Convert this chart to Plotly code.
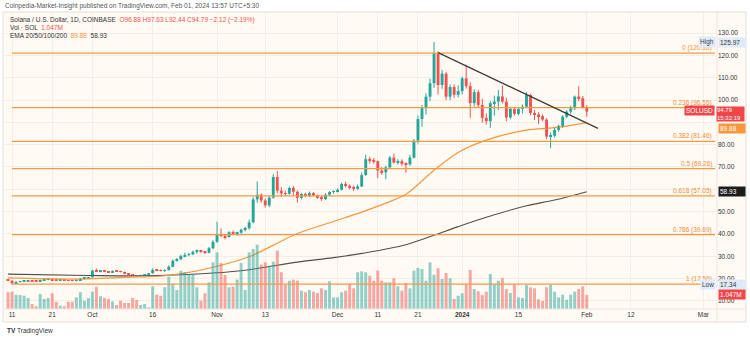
import plotly.graph_objects as go
import pandas as pd

# ---------------- data ----------------
dates = pd.date_range("2023-09-10", "2024-02-01", freq="D").strftime("%Y-%m-%d").tolist()

opens = [
    19.5, 19.1, 17.9, 18.5, 18.7, 18.9, 19.0, 18.9, 18.7, 19.3,
    19.6, 19.7, 19.3, 19.2, 19.3, 19.1, 19.0, 18.95, 19.3, 20.0,
    20.2, 20.6, 23.6, 23.3, 23.4, 23.2, 22.9, 23.4, 23.3, 23.0,
    22.1, 21.8, 21.4, 21.2, 21.5, 21.6, 22.4, 23.9, 23.7, 23.5,
    23.8, 25.3, 28.0, 28.7, 30.1, 30.6, 30.9, 32.0, 32.4, 32.0,
    31.6, 33.6, 36.5, 39.8, 39.3, 38.6, 40.8, 40.2, 40.6, 41.9,
    42.6, 45.2, 55.5, 57.6, 55.0, 52.8, 56.3, 65.5, 59.4, 58.2,
    58.0, 60.6, 58.9, 56.2, 57.9, 57.0, 58.3, 57.2, 56.5, 55.6,
    57.6, 58.8, 59.2, 59.8, 62.4, 61.6, 60.6, 60.2, 61.3, 66.4,
    73.5, 73.0, 72.6, 68.4, 67.6, 69.8, 74.2, 72.0, 72.6, 71.4,
    71.2, 74.2, 81.8, 91.5, 96.3, 101.5, 107.5, 120.9, 106.7, 111.8,
    101.5, 105.8, 102.3, 104.0, 109.7, 106.2, 98.6, 103.5, 97.8, 92.0,
    90.5, 98.6, 99.3, 101.6, 99.3, 92.2, 96.0, 93.8, 96.0, 97.0,
    102.2, 94.2, 93.5, 92.8, 91.2, 83.6, 84.0, 86.6, 88.4, 92.5,
    94.8, 96.3, 101.5, 100.8, 96.88]

highs = [
    19.7, 19.2, 18.9, 18.9, 19.2, 19.2, 19.1, 19.0, 19.6, 19.8,
    19.9, 19.8, 19.5, 19.4, 19.4, 19.2, 19.2, 19.6, 20.3, 20.6,
    20.8, 23.9, 24.5, 23.7, 23.6, 23.5, 23.7, 23.6, 23.5, 23.1,
    22.4, 22.0, 21.6, 21.7, 21.9, 22.6, 24.6, 24.3, 24.1, 24.2,
    26.0, 28.6, 29.2, 30.8, 31.6, 31.6, 32.6, 33.0, 32.8, 32.4,
    34.2, 37.2, 45.5, 42.5, 39.9, 41.2, 41.6, 41.0, 42.4, 43.2,
    46.5, 56.5, 63.5, 58.2, 55.8, 57.2, 66.8, 68.2, 61.0, 59.4,
    61.2, 61.5, 59.5, 58.3, 58.5, 59.0, 58.8, 57.6, 57.0, 58.2,
    59.2, 59.5, 60.5, 63.0, 63.4, 62.2, 61.6, 62.2, 67.5, 75.5,
    74.5, 74.0, 72.8, 70.0, 70.5, 75.0, 76.0, 73.5, 73.4, 72.0,
    75.5, 82.5, 93.0, 97.8, 103.0, 109.5, 125.97, 121.8, 113.5, 112.5,
    107.0, 107.0, 106.5, 110.5, 115.8, 108.0, 104.8, 104.5, 100.5, 94.0,
    99.5, 102.0, 104.5, 106.5, 101.0, 97.0, 96.8, 96.8, 98.0, 103.5,
    102.8, 95.5, 94.5, 93.5, 91.8, 85.5, 87.5, 89.0, 93.2, 95.5,
    97.5, 102.0, 106.2, 101.8, 97.63]

lows = [
    18.9, 17.34, 17.8, 18.3, 18.6, 18.7, 18.8, 18.6, 18.6, 19.2,
    19.3, 19.2, 19.1, 19.1, 19.0, 18.9, 18.8, 18.8, 19.2, 19.7,
    20.0, 20.5, 23.0, 22.8, 22.9, 22.6, 22.7, 23.1, 22.8, 21.9,
    21.6, 21.1, 20.9, 21.0, 21.3, 21.5, 22.3, 23.3, 23.2, 23.0,
    23.6, 25.1, 27.6, 28.2, 29.6, 30.0, 30.5, 31.2, 31.5, 31.0,
    31.3, 33.2, 36.0, 38.5, 37.6, 38.4, 39.6, 39.2, 40.1, 41.2,
    41.9, 44.8, 54.0, 54.0, 51.8, 52.0, 55.8, 58.2, 56.6, 56.9,
    57.6, 57.5, 54.0, 55.5, 56.5, 56.5, 56.8, 55.8, 54.8, 55.2,
    57.0, 58.0, 58.6, 59.5, 60.8, 60.0, 59.2, 59.8, 61.0, 66.0,
    71.5, 71.5, 65.0, 66.5, 64.5, 69.0, 71.5, 71.0, 70.5, 67.5,
    70.5, 73.8, 80.5, 88.0, 93.5, 99.5, 105.5, 102.5, 105.0, 100.0,
    100.0, 101.0, 101.2, 102.5, 105.0, 92.0, 97.0, 96.5, 89.8, 89.0,
    87.5, 93.0, 95.5, 98.5, 90.5, 91.5, 93.0, 93.2, 94.0, 96.5,
    93.2, 91.0, 89.2, 90.5, 82.5, 78.4, 83.2, 85.8, 87.5, 91.8,
    93.8, 95.5, 99.5, 96.2, 92.44]

closes = [
    19.1, 17.9, 18.5, 18.7, 18.9, 19.0, 18.9, 18.7, 19.3, 19.6,
    19.7, 19.3, 19.2, 19.3, 19.1, 19.0, 18.95, 19.3, 20.0, 20.2,
    20.6, 23.6, 23.3, 23.4, 23.2, 22.9, 23.4, 23.3, 23.0, 22.1,
    21.8, 21.4, 21.2, 21.5, 21.6, 22.4, 23.9, 23.7, 23.5, 23.8,
    25.3, 28.0, 28.7, 30.1, 30.6, 30.9, 32.0, 32.4, 32.0, 31.6,
    33.6, 36.5, 39.8, 39.3, 38.6, 40.8, 40.2, 40.6, 41.9, 42.6,
    45.2, 55.5, 57.6, 55.0, 52.8, 56.3, 65.5, 59.4, 58.2, 58.0,
    60.6, 58.9, 56.2, 57.9, 57.0, 58.3, 57.2, 56.5, 55.6, 57.6,
    58.8, 59.2, 59.8, 62.4, 61.6, 60.6, 60.2, 61.3, 66.4, 73.5,
    73.0, 72.6, 68.4, 67.6, 69.8, 74.2, 72.0, 72.6, 71.4, 71.2,
    74.2, 81.8, 91.5, 96.3, 101.5, 107.5, 120.9, 106.7, 111.8, 101.5,
    105.8, 102.3, 104.0, 109.7, 106.2, 98.6, 103.5, 97.8, 92.0, 90.5,
    98.6, 99.3, 101.6, 99.3, 92.2, 96.0, 93.8, 96.0, 97.0, 102.2,
    94.2, 93.5, 92.8, 91.2, 83.6, 84.0, 86.6, 88.4, 92.5, 94.8,
    96.3, 101.5, 100.8, 96.88, 94.79]

volumes_m = [
    1.25, 1.29, 1.07, 1.04, 0.99, 0.82, 0.37, 0.20, 1.12, 0.75,
    0.82, 1.17, 0.54, 0.25, 0.20, 0.54, 0.54, 0.87, 1.25, 0.62,
    0.82, 1.29, 1.66, 0.95, 0.82, 0.75, 0.57, 0.30, 0.62, 0.45,
    0.45, 0.82, 0.67, 0.30, 0.37, 0.13, 1.69, 1.07, 0.99, 1.62,
    2.41, 1.87, 1.42, 2.86, 2.74, 2.61, 2.61, 1.62, 0.62, 1.17,
    1.99, 3.48, 4.23, 3.43, 2.54, 1.62, 1.66, 2.19, 3.43, 1.42,
    4.23, 4.48, 4.80, 3.31, 3.48, 3.23, 3.53, 4.35, 2.74, 1.79,
    2.11, 2.19, 2.11, 1.37, 1.25, 1.42, 1.29, 1.19, 1.54, 1.42,
    2.07, 0.87, 0.87, 1.25, 1.37, 1.87, 1.54, 2.74, 2.81, 2.74,
    2.48, 2.11, 2.86, 2.11, 1.99, 1.99, 2.29, 1.69, 1.37, 1.94,
    1.54, 2.86, 3.06, 2.98, 2.11, 3.48, 2.56, 3.04, 2.24, 2.69,
    2.29, 0.75, 0.99, 1.17, 1.87, 2.91, 1.49, 1.32, 1.04, 1.29,
    2.61, 1.87, 2.11, 2.31, 1.49, 1.19, 1.87, 0.87, 0.82, 1.79,
    1.62, 1.54, 0.72, 0.60, 1.62, 1.79, 1.29, 0.87, 1.07, 0.69,
    1.07, 1.29, 1.49, 1.69, 1.047]

ema50_dates = ["2023-09-10", "2023-09-28", "2023-10-09", "2023-10-15", "2023-10-19",
               "2023-10-25", "2023-10-31", "2023-11-09", "2023-11-15", "2023-11-21",
               "2023-11-30", "2023-12-07", "2023-12-13", "2023-12-18", "2023-12-25",
               "2023-12-31", "2024-01-07", "2024-01-17", "2024-01-24", "2024-02-01"]
ema50_vals = [20.3, 19.8, 20.6, 20.9, 21.3, 22.8, 25.1, 29.8, 35.0, 40.2,
              45.6, 49.8, 53.8, 57.8, 68.5, 76.5, 82.0, 86.5, 87.6, 89.88]

ema200_dates = ["2023-09-10", "2023-09-30", "2023-10-15", "2023-10-31", "2023-11-09",
                "2023-11-21", "2023-11-30", "2023-12-07", "2023-12-18", "2023-12-25",
                "2023-12-31", "2024-01-07", "2024-01-17", "2024-01-24", "2024-02-01"]
ema200_vals = [22.0, 21.4, 21.3, 22.5, 24.0, 27.4, 29.4, 31.3, 35.2, 39.4,
               43.3, 47.5, 52.6, 55.2, 58.93]

fib_ratios = ["0", "0.236", "0.382", "0.5", "0.618", "0.786", "1"]
fib_levels = [120.95, 96.55, 81.46, 69.26, 57.05, 39.69, 17.56]
fib_start, fib_end = "2023-09-11", "2024-03-03 22:00"

trend_dates = ["2023-12-26", "2024-02-03 19:00"]
trend_vals = [121.2, 87.3]

price_ticks = [10, 20, 30, 40, 50, 60, 70, 80, 90, 100, 110, 120, 130]
hidden_ticks = [60, 90]   # covered by the EMA value boxes in the original
date_ticks = ["2023-09-11", "2023-09-21", "2023-10-01", "2023-10-16", "2023-11-01",
              "2023-11-13", "2023-12-01", "2023-12-11", "2023-12-21", "2024-01-01",
              "2024-01-15", "2024-02-01", "2024-02-12", "2024-03-01"]
date_labels = ["11", "21", "Oct", "16", "Nov", "13", "Dec", "11", "21", "<b>2024</b>",
               "15", "Feb", "12", "Mar"]

last_close, ema50_last, ema200_last, range_high, range_low, vol_last = 94.79, 89.88, 58.93, 125.97, 17.34, 1.047

# ---------------- style ----------------
W, H = 750, 339
ML, MR, MT, MB = 4, 33, 12, 30
GREEN, RED = "#26a69a", "#ef5350"
ORANGE = "#f39a45"
FONT = "Liberation Sans"
DAY_MS = 86400000


def pxx(px):
    return (px - ML) / (W - ML - MR)


def pxy(py):
    return (H - MB - py) / (H - MT - MB)


up = [c >= o for o, c in zip(opens, closes)]
vol_colors = ["rgba(38,166,154,0.5)" if u else "rgba(239,83,80,0.5)" for u in up]
body_colors = [GREEN if u else RED for u in up]
body_base = [min(o, c) for o, c in zip(opens, closes)]
body_len = [max(abs(c - o), 0.35) for o, c in zip(opens, closes)]

fig = go.Figure()
fig.add_trace(go.Bar(x=dates, y=volumes_m, yaxis="y2", marker_color=vol_colors,
                     marker_line_width=0, width=0.74 * DAY_MS, hoverinfo="skip",
                     showlegend=False))
fig.add_trace(go.Scatter(x=ema200_dates, y=ema200_vals, mode="lines",
                         line=dict(color="#505050", width=1.1, shape="spline"),
                         hoverinfo="skip", showlegend=False))
fig.add_trace(go.Scatter(x=ema50_dates, y=ema50_vals, mode="lines",
                         line=dict(color="#f7963a", width=1.2, shape="spline"),
                         hoverinfo="skip", showlegend=False))

for flag, col in ((True, GREEN), (False, RED)):
    wx, wy = [], []
    for d, h, l, u in zip(dates, highs, lows, up):
        if u == flag:
            wx += [d, d, None]
            wy += [l, h, None]
    fig.add_trace(go.Scatter(x=wx, y=wy, mode="lines", line=dict(color=col, width=1),
                             hoverinfo="skip", showlegend=False))
fig.add_trace(go.Bar(x=dates, y=body_len, base=body_base, marker_color=body_colors,
                     marker_line_width=0, width=0.72 * DAY_MS, hoverinfo="skip",
                     showlegend=False))

shapes = []
shapes.append(dict(type="rect", xref="paper", yref="paper", x0=pxx(3), x1=pxx(746),
                   y0=pxy(322), y1=pxy(12), fillcolor="#fffaf4",
                   line=dict(color="#e2ded9", width=1), layer="below"))
shapes.append(dict(type="line", xref="paper", yref="paper", x0=1, x1=1,
                   y0=pxy(322), y1=pxy(12), line=dict(color="#ebe6e1", width=1)))
shapes.append(dict(type="line", xref="paper", yref="paper", x0=pxx(3), x1=pxx(746),
                   y0=0, y1=0, line=dict(color="#ebe6e1", width=1)))
for lv in fib_levels:
    shapes.append(dict(type="line", xref="x", yref="y", x0=fib_start, x1=fib_end,
                       y0=lv, y1=lv, line=dict(color=ORANGE, width=1.2)))
shapes.append(dict(type="line", xref="x", yref="y", x0=trend_dates[0], x1=trend_dates[1],
                   y0=trend_vals[0], y1=trend_vals[1], line=dict(color="#3c3c3c", width=1.2)))

ann = []
for r, lv in zip(fib_ratios, fib_levels):
    ann.append(dict(x=pxx(714), xref="paper", y=lv, yref="y", xanchor="right",
                    yanchor="bottom", text=f"{r} ({lv:.2f})", showarrow=False,
                    font=dict(size=6.5, color="#ef8f35", family=FONT), yshift=-1))


def box(text, y, yref, bg, fc="white", x=718, w=None, xanchor="left", yshift=0):
    d = dict(x=pxx(x), xref="paper", y=y, yref=yref, xanchor=xanchor, yanchor="middle",
             text=text, showarrow=False, bgcolor=bg, borderpad=1, yshift=yshift,
             font=dict(size=6.5, color=fc, family=FONT), align="left")
    if w:
        d["width"] = w
    return d


ann.append(box("High", range_high, "y", "#dfeafa", "#444", x=716, xanchor="right"))
ann.append(box(f"{range_high:.2f}", range_high, "y", "#dfeafa", "#333", w=24))
ann.append(box("Low", range_low, "y", "#dfeafa", "#444", x=716, xanchor="right"))
ann.append(box(f"{range_low:.2f}", range_low, "y", "#dfeafa", "#333", w=24))
ann.append(box("SOLUSD", last_close, "y", "#f0464a", x=715, xanchor="right", yshift=1))
ann.append(dict(x=pxx(716), xref="paper", y=last_close, yref="y", xanchor="left",
                yanchor="top", yshift=6, text=f"{last_close:.2f}<br>15:32:19",
                showarrow=False, bgcolor="#f0464a", borderpad=0, width=27, align="left",
                font=dict(size=6, color="white", family=FONT)))
ann.append(box(f"{ema50_last:.2f}", ema50_last, "y", "#f7963a", w=24, yshift=-6))
ann.append(box(f"{ema200_last:.2f}", ema200_last, "y", "#1c1c1c", w=24))
ann.append(box(f"{vol_last:.3f}M", vol_last, "y2", "#f0464a", w=24))

ann.append(dict(x=pxx(3), xref="paper", y=pxy(6), yref="paper", xanchor="left",
                yanchor="middle", showarrow=False,
                text="Coinpedia-Market-Insight published on TradingView.com, Feb 01, 2024 13:57 UTC+5:30",
                font=dict(size=6.5, color="#555", family=FONT)))
ann.append(dict(x=pxx(8), xref="paper", y=pxy(19.5), yref="paper", xanchor="left",
                yanchor="middle", showarrow=False,
                text="Solana / U.S. Dollar, 1D, COINBASE  <span style='color:#ef5350'>O96.88 H97.63 L92.44 C94.79 −2.12 (−2.19%)</span>",
                font=dict(size=6.5, color="#333", family=FONT)))
ann.append(dict(x=pxx(8), xref="paper", y=pxy(27.5), yref="paper", xanchor="left",
                yanchor="middle", showarrow=False,
                text="Vol · SOL  <span style='color:#ef5350'>1.047M</span>",
                font=dict(size=6.5, color="#333", family=FONT)))
ann.append(dict(x=pxx(8), xref="paper", y=pxy(35.5), yref="paper", xanchor="left",
                yanchor="middle", showarrow=False,
                text="EMA 20/50/100/200  <span style='color:#f7963a'>89.88</span>  58.93",
                font=dict(size=6.5, color="#333", family=FONT)))
ann.append(dict(x=pxx(5), xref="paper", y=pxy(331), yref="paper", xanchor="left",
                yanchor="middle", showarrow=False,
                text="<b>TV</b> TradingView",
                font=dict(size=6.5, color="#333", family=FONT)))

fig.update_layout(
    width=W, height=H, margin=dict(l=ML, r=MR, t=MT, b=MB),
    paper_bgcolor="white", plot_bgcolor="rgba(0,0,0,0)",
    shapes=shapes, annotations=ann, showlegend=False, barmode="overlay",
    xaxis=dict(type="date", range=["2023-09-09 00:00", "2024-03-04 09:40"],
               tickvals=date_ticks, ticktext=date_labels, showgrid=True,
               gridcolor="#f2ede7", gridwidth=1, zeroline=False, showline=False,
               ticks="", tickfont=dict(size=6.5, color="#333", family=FONT),
               rangeslider=dict(visible=False), fixedrange=True),
    yaxis=dict(side="right", range=[6.4, 139.41], tickvals=price_ticks,
               ticktext=["" if v in hidden_ticks else f"{v:.2f}" for v in price_ticks],
               showgrid=True, gridcolor="#f2ede7", zeroline=False, showline=False,
               ticks="", tickfont=dict(size=6.5, color="#333", family=FONT),
               fixedrange=True),
    yaxis2=dict(overlaying="y", range=[0, 22.16], visible=False, fixedrange=True),
)

fig.write_html("out.html", config={"displayModeBar": False})
